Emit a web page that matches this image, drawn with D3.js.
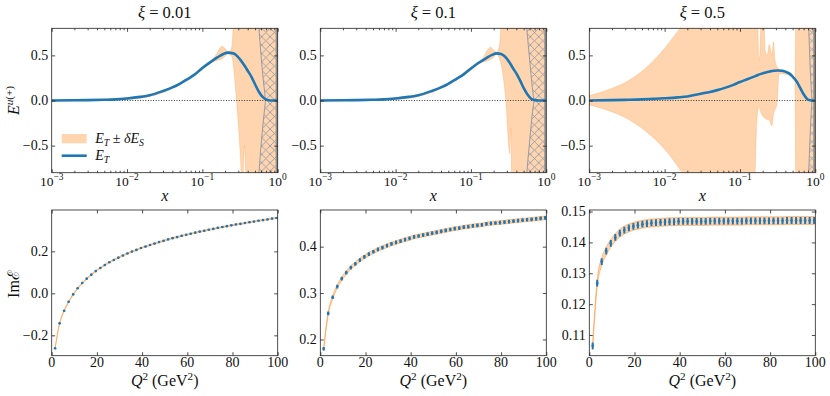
<!DOCTYPE html>
<html>
<head>
<meta charset="utf-8">
<script src="https://cdn.jsdelivr.net/npm/d3@7"></script>
<style>
body { margin: 0; background: #fff; }
svg text, svg tspan { font-family: "Liberation Serif", "Times New Roman", Times, "DejaVu Serif", serif; fill: #111; }
</style>
</head>
<body>
<svg id="fig" width="830" height="396" font-family="Liberation Serif, Times New Roman, DejaVu Serif, serif"></svg>
<script>
// ---------- data ----------
var xiLabels = ["0.01", "0.1", "0.5"];

// x grid for the E_T curves
var xGrid = [0.001, 0.002, 0.003, 0.005, 0.007, 0.01, 0.015, 0.02, 0.03, 0.04, 0.05, 0.063, 0.08, 0.1, 0.125, 0.16, 0.19, 0.22, 0.25, 0.28, 0.32, 0.36, 0.4, 0.45, 0.5, 0.56, 0.63, 0.7, 0.8, 0.9, 1.0];
var eT1 = [0.000, 0.002, 0.004, 0.008, 0.012, 0.022, 0.040, 0.058, 0.105, 0.145, 0.185, 0.235, 0.290, 0.360, 0.420, 0.480, 0.515, 0.530, 0.525, 0.505, 0.450, 0.390, 0.330, 0.260, 0.180, 0.100, 0.040, 0.012, 0.000, 0.000, 0.000];
var eT2 = [0.000, 0.002, 0.004, 0.008, 0.012, 0.022, 0.040, 0.058, 0.105, 0.145, 0.185, 0.235, 0.290, 0.355, 0.415, 0.470, 0.505, 0.522, 0.515, 0.490, 0.430, 0.360, 0.300, 0.220, 0.140, 0.070, 0.020, 0.004, 0.000, 0.000, 0.000];
var eT3 = [0.000, 0.004, 0.007, 0.012, 0.018, 0.025, 0.035, 0.045, 0.075, 0.095, 0.115, 0.140, 0.170, 0.205, 0.235, 0.270, 0.295, 0.310, 0.322, 0.330, 0.333, 0.330, 0.320, 0.300, 0.265, 0.215, 0.140, 0.070, 0.010, 0.000, 0.000];

// error bands E_T +- dE_S
var bandX1  = [0.001, 0.00316, 0.01, 0.0316, 0.063, 0.1, 0.141, 0.158, 0.182, 0.2, 0.219, 0.24, 0.251, 0.26, 0.282, 0.302, 0.316, 0.327, 0.339, 0.351, 0.363, 0.376, 0.389, 1.0];
var bandLo1 = [-0.006, -0.003, 0.012, 0.095, 0.225, 0.345, 0.430, 0.445, 0.460, 0.490, 0.515, 0.500, 0.460, 0.360, 0.020, -0.300, -0.550, -0.800, -1.200, -0.750, -0.500, -0.800, -1.200, -1.500];
var bandHi1 = [0.006, 0.011, 0.032, 0.115, 0.245, 0.375, 0.465, 0.530, 0.600, 0.575, 0.545, 0.560, 0.680, 0.950, 1.500, 1.500, 1.500, 1.500, 1.500, 1.500, 1.500, 1.500, 1.500, 1.500];

var bandX2  = [0.001, 0.00316, 0.01, 0.0316, 0.063, 0.1, 0.141, 0.166, 0.182, 0.2, 0.219, 0.24, 0.251, 0.266, 0.295, 0.31, 0.326, 0.339, 0.351, 1.0];
var bandLo2 = [-0.006, -0.003, 0.012, 0.095, 0.225, 0.340, 0.425, 0.440, 0.455, 0.480, 0.510, 0.460, 0.400, 0.280, -0.090, -0.390, -0.590, -0.300, -1.200, -1.500];
var bandHi2 = [0.006, 0.011, 0.032, 0.115, 0.245, 0.370, 0.460, 0.560, 0.590, 0.560, 0.535, 0.620, 0.900, 1.500, 1.500, 1.500, 1.500, 1.500, 1.500, 1.500];

var bandX3  = [0.001, 0.00178, 0.00316, 0.00562, 0.01, 0.0141, 0.0186, 0.0316, 0.148, 0.158, 0.166, 0.172, 0.178, 0.184, 0.193, 0.204, 0.216, 0.229, 0.245, 0.257, 0.266, 0.279, 0.292, 0.309, 0.331, 0.501, 0.537, 0.556, 1.0];
var bandLo3 = [-0.050, -0.110, -0.200, -0.340, -0.540, -0.700, -0.860, -1.500, -1.500, -0.900, -0.300, -0.120, -0.070, -0.100, -0.150, -0.180, -0.200, -0.210, -0.220, -0.260, -0.280, -0.150, -0.100, -0.050, 0.300, 0.260, 0.220, -1.200, -1.500];
var bandHi3 = [0.055, 0.120, 0.210, 0.360, 0.580, 0.740, 0.880, 1.500, 1.500, 1.500, 1.200, 0.900, 0.450, 0.520, 1.200, 1.200, 0.550, 0.500, 0.620, 0.550, 0.500, 0.650, 0.450, 0.380, 0.345, 0.270, 0.240, 1.200, 1.500];

// hatched region |E| > g(x) near x -> 1
var hatchX1 = [0.55, 0.564, 0.585, 0.607, 0.638, 0.671, 0.692, 1.0];
var hatchG1 = [0.95, 0.80, 0.62, 0.46, 0.26, 0.09, 0.00, 0.00];
var hatchX2 = [0.537, 0.552, 0.575, 0.60, 0.631, 0.664, 0.698, 1.0];
var hatchG2 = [0.95, 0.80, 0.62, 0.46, 0.26, 0.09, 0.00, 0.00];
var hatchX3 = [0.803, 0.817, 0.834, 0.851, 0.872, 0.891, 0.906, 1.0];
var hatchG3 = [0.95, 0.80, 0.60, 0.40, 0.22, 0.08, 0.00, 0.00];

// Im E versus Q^2
var q2 = [1.5, 3.5, 5.5, 7.5, 9.5, 11.5, 13.5, 15.5, 17.5, 19.5, 21.5, 23.5, 25.5, 27.5, 29.5, 31.5, 33.5, 35.5, 37.5, 39.5,
          41.5, 43.5, 45.5, 47.5, 49.5, 51.5, 53.5, 55.5, 57.5, 59.5, 61.5, 63.5, 65.5, 67.5, 69.5, 71.5, 73.5, 75.5, 77.5, 79.5,
          81.5, 83.5, 85.5, 87.5, 89.5, 91.5, 93.5, 95.5, 97.5, 99.5];
var imE1 = [-0.262, -0.143, -0.083, -0.040, -0.005, 0.024, 0.049, 0.070, 0.089, 0.106, 0.121, 0.135, 0.148, 0.159, 0.170, 0.180, 0.190, 0.199, 0.207, 0.216,
            0.223, 0.230, 0.237, 0.244, 0.250, 0.257, 0.263, 0.268, 0.274, 0.279, 0.284, 0.289, 0.294, 0.298, 0.303, 0.307, 0.312, 0.316, 0.320, 0.324,
            0.328, 0.331, 0.335, 0.339, 0.342, 0.346, 0.349, 0.352, 0.356, 0.359];
var imE2 = [0.180, 0.256, 0.291, 0.314, 0.331, 0.344, 0.355, 0.363, 0.371, 0.378, 0.384, 0.389, 0.394, 0.398, 0.402, 0.406, 0.409, 0.412, 0.415, 0.418,
            0.421, 0.423, 0.425, 0.427, 0.429, 0.431, 0.433, 0.435, 0.437, 0.439, 0.440, 0.442, 0.443, 0.445, 0.446, 0.447, 0.449, 0.450, 0.451, 0.452,
            0.453, 0.454, 0.455, 0.456, 0.457, 0.458, 0.459, 0.460, 0.461, 0.462];
var imE3 = [0.1065, 0.1268, 0.1338, 0.1372, 0.1397, 0.1416, 0.1430, 0.1440, 0.1447, 0.1452, 0.1456, 0.1459, 0.1461, 0.1463, 0.1464, 0.1465, 0.1466, 0.1467, 0.1467, 0.1468,
            0.1468, 0.1468, 0.1468, 0.1468, 0.1468, 0.1468, 0.1469, 0.1469, 0.1469, 0.1469, 0.1469, 0.1469, 0.1469, 0.1469, 0.1470, 0.1470, 0.1470, 0.1470, 0.1470, 0.1470,
            0.1470, 0.1470, 0.1470, 0.1471, 0.1471, 0.1471, 0.1471, 0.1471, 0.1471, 0.1471];
var imErr  = [0.003, 0.004, 0.0011];   // blue error bars
var imBand = [0.003, 0.004, 0.0013];   // orange band half width

// ticks
var xTicksTop = [0.001, 0.01, 0.1, 1];
var xTickExp = ["\u22123", "\u22122", "\u22121", "0"];
var yTicksTop = [-0.5, 0, 0.5];
var xTicksBot = [0, 20, 40, 60, 80, 100];
var yTicksBot = [[-0.2, 0.0, 0.2], [0.2, 0.3, 0.4], [0.11, 0.12, 0.13, 0.14, 0.15]];
var yDomBot = [[-0.297, 0.397], [0.165, 0.479], [0.1033, 0.1505]];
var yFmtBot = [".1f", ".1f", ".2f"];

// ---------- layout ----------
var svg = d3.select("#fig");
var lefts = [51.7, 320.3, 589.3], pw = 226;
var topY = 28.3, topH = 144.4, botY = 210, botH = 145.7;
var blue = "#1f77b4", orange = "#ff7f0e";
var bandFill = "rgba(255,127,14,0.33)";
var serif = "'Liberation Serif', 'Times New Roman', 'DejaVu Serif', serif";
var tickFont = 14;

var defs = svg.append("defs");
var pat = defs.append("pattern").attr("id", "hatch").attr("patternUnits", "userSpaceOnUse")
  .attr("width", 8.4).attr("height", 8.4);
pat.append("path").attr("d", "M0,0L8.4,8.4M8.4,0L0,8.4")
  .attr("stroke", "#8a95a5").attr("stroke-width", 0.8).attr("fill", "none");

// text with italics / sub / superscripts
function rich(txt, parts, size) {
  var shift = 0;
  txt.style("font-family", serif);
  parts.forEach(function(p) {
    var s = p.s || 0;
    var target = s === 1 ? -0.4 * size : (s === -1 ? 0.25 * size : 0);
    txt.append("tspan").text(p.t)
      .attr("dy", (target - shift).toFixed(2))
      .style("font-family", p.f || serif)
      .style("font-style", p.i ? "italic" : "normal")
      .style("font-size", (s ? size * 0.7 : size) + "px");
    shift = target;
  });
  return txt;
}

function plain(g, xx, yy, str, anchor) {
  return g.append("text").attr("x", xx).attr("y", yy).attr("text-anchor", anchor)
    .style("font-family", serif).style("font-size", tickFont + "px").text(str);
}

function styleAxis(sel) {
  sel.select(".domain").remove();
  sel.selectAll("line").attr("stroke", "#222").attr("stroke-width", 0.8);
  sel.selectAll("text").remove();
}

function ticksAround(g, x, y, w, h, xt, yt, xMinor) {
  g.append("g").attr("transform", "translate(0," + h + ")")
    .call(d3.axisBottom(x).tickValues(xt).tickSize(-3.5).tickSizeOuter(0)).call(styleAxis);
  g.append("g").call(d3.axisTop(x).tickValues(xt).tickSize(-3.5).tickSizeOuter(0)).call(styleAxis);
  g.append("g").call(d3.axisLeft(y).tickValues(yt).tickSize(-3.5).tickSizeOuter(0)).call(styleAxis);
  g.append("g").attr("transform", "translate(" + w + ",0)")
    .call(d3.axisRight(y).tickValues(yt).tickSize(-3.5).tickSizeOuter(0)).call(styleAxis);
  if (xMinor) {
    g.append("g").attr("transform", "translate(0," + h + ")")
      .call(d3.axisBottom(x).tickValues(xMinor).tickSize(-2).tickSizeOuter(0)).call(styleAxis);
    g.append("g").call(d3.axisTop(x).tickValues(xMinor).tickSize(-2).tickSizeOuter(0)).call(styleAxis);
  }
  g.append("rect").attr("width", w).attr("height", h)
    .attr("fill", "none").attr("stroke", "#222").attr("stroke-width", 0.8);
}

// ---------- top row: E^{u(+)}(x) ----------
function topPanel(i, eT, bx, blo, bhi, hx, hg) {
  var g = svg.append("g").attr("transform", "translate(" + lefts[i] + "," + topY + ")");
  var x = d3.scaleLog().domain([1e-3, 1]).range([0, pw]);
  var y = d3.scaleLinear().domain([-0.8, 0.8]).range([topH, 0]);

  defs.append("clipPath").attr("id", "clipT" + i)
    .append("rect").attr("width", pw).attr("height", topH);
  var plot = g.append("g").attr("clip-path", "url(#clipT" + i + ")");

  var band = d3.area().curve(d3.curveMonotoneX)
    .x(function(d) { return x(d[0]); })
    .y0(function(d) { return y(d[1]); })
    .y1(function(d) { return y(d[2]); });
  plot.append("path").attr("d", band(d3.zip(bx, blo, bhi)))
    .attr("fill", bandFill).attr("stroke", orange).attr("stroke-opacity", 0.25).attr("stroke-width", 0.8);

  // hatched region
  var hd = d3.zip(hx, hg);
  var up = d3.area().curve(d3.curveMonotoneX)
    .x(function(d) { return x(d[0]); })
    .y0(function(d) { return y(d[1]); })
    .y1(function() { return y(1.5); });
  var dn = d3.area().curve(d3.curveMonotoneX)
    .x(function(d) { return x(d[0]); })
    .y0(function(d) { return y(-d[1]); })
    .y1(function() { return y(-1.5); });
  plot.append("path").attr("d", up(hd)).attr("fill", "url(#hatch)");
  plot.append("path").attr("d", dn(hd)).attr("fill", "url(#hatch)");
  var edge = d3.line().curve(d3.curveMonotoneX).x(function(d) { return x(d[0]); });
  plot.append("path").attr("d", edge.y(function(d) { return y(d[1]); })(hd))
    .attr("fill", "none").attr("stroke", "#8a95a5").attr("stroke-width", 0.9);
  plot.append("path").attr("d", edge.y(function(d) { return y(-d[1]); })(hd))
    .attr("fill", "none").attr("stroke", "#8a95a5").attr("stroke-width", 0.9);
  plot.append("line").attr("x1", x(1) - 1).attr("x2", x(1) - 1).attr("y1", 0).attr("y2", topH)
    .attr("stroke", "#8f8f8f").attr("stroke-width", 2);

  // zero line
  plot.append("line").attr("x1", 0).attr("x2", pw).attr("y1", y(0)).attr("y2", y(0))
    .attr("stroke", "#222").attr("stroke-width", 0.9).attr("stroke-dasharray", "1,1.6");

  // E_T
  var line = d3.line().curve(d3.curveMonotoneX)
    .x(function(d) { return x(d[0]); })
    .y(function(d) { return y(d[1]); });
  plot.append("path").attr("d", line(d3.zip(xGrid, eT)))
    .attr("fill", "none").attr("stroke", blue).attr("stroke-width", 2.6);

  var minor = x.ticks().filter(function(v) { return xTicksTop.indexOf(v) < 0; });
  ticksAround(g, x, y, pw, topH, xTicksTop, yTicksTop, minor);

  xTicksTop.forEach(function(v, k) {
    rich(g.append("text").attr("x", x(v)).attr("y", topH + 13).attr("text-anchor", "middle"),
      [{t: "10"}, {t: xTickExp[k], s: 1}], 13.5);
  });
  var fy = d3.format(".1f");
  yTicksTop.forEach(function(v) { plain(g, -3.5, y(v) + 4.6, fy(v), "end"); });

  rich(g.append("text").attr("x", pw / 2).attr("y", -10).attr("text-anchor", "middle"),
    [{t: "\u03be", i: 1}, {t: " = " + xiLabels[i]}], 16.5);
  rich(g.append("text").attr("x", pw / 2).attr("y", topH + 28.5).attr("text-anchor", "middle"),
    [{t: "x", i: 1}], 16);
  return g;
}

// ---------- bottom row: Im E(Q^2) ----------
function botPanel(i, vals) {
  var g = svg.append("g").attr("transform", "translate(" + lefts[i] + "," + botY + ")");
  var x = d3.scaleLinear().domain([0, 100]).range([0, pw]);
  var y = d3.scaleLinear().domain(yDomBot[i]).range([botH, 0]);
  var pts = d3.zip(q2, vals);

  defs.append("clipPath").attr("id", "clipB" + i)
    .append("rect").attr("width", pw).attr("height", botH);
  var plot = g.append("g").attr("clip-path", "url(#clipB" + i + ")");

  var bw = imBand[i], ew = imErr[i];
  var area = d3.area().curve(d3.curveMonotoneX)
    .x(function(d) { return x(d[0]); })
    .y0(function(d) { return y(d[1] - bw); })
    .y1(function(d) { return y(d[1] + bw); });
  plot.append("path").attr("d", area(pts))
    .attr("fill", bandFill).attr("stroke", orange).attr("stroke-opacity", 0.45).attr("stroke-width", 0.9);

  plot.selectAll("line.err").data(pts).enter().append("line").attr("class", "err")
    .attr("x1", function(d) { return x(d[0]); })
    .attr("x2", function(d) { return x(d[0]); })
    .attr("y1", function(d) { return y(d[1] - ew); })
    .attr("y2", function(d) { return y(d[1] + ew); })
    .attr("stroke", blue).attr("stroke-width", 2);
  plot.selectAll("circle").data(pts).enter().append("circle")
    .attr("cx", function(d) { return x(d[0]); })
    .attr("cy", function(d) { return y(d[1]); })
    .attr("r", 1.3).attr("fill", blue);

  ticksAround(g, x, y, pw, botH, xTicksBot, yTicksBot[i], null);

  xTicksBot.forEach(function(v) { plain(g, x(v), botH + 11.5, v, "middle"); });
  var fy = d3.format(yFmtBot[i]);
  yTicksBot[i].forEach(function(v) { plain(g, -3.5, y(v) + 4.6, fy(v), "end"); });
  rich(g.append("text").attr("x", pw / 2).attr("y", botH + 30.5).attr("text-anchor", "middle"),
    [{t: "Q", i: 1}, {t: "2", s: 1}, {t: " (GeV"}, {t: "2", s: 1}, {t: ")"}], 16);
}

var g1 = topPanel(0, eT1, bandX1, bandLo1, bandHi1, hatchX1, hatchG1);
topPanel(1, eT2, bandX2, bandLo2, bandHi2, hatchX2, hatchG2);
topPanel(2, eT3, bandX3, bandLo3, bandHi3, hatchX3, hatchG3);
botPanel(0, imE1);
botPanel(1, imE2);
botPanel(2, imE3);

// legend in first panel
g1.append("rect").attr("x", 10).attr("y", 105.7).attr("width", 25).attr("height", 9.3).attr("fill", bandFill);
g1.append("line").attr("x1", 10).attr("x2", 35).attr("y1", 127.4).attr("y2", 127.4)
  .attr("stroke", blue).attr("stroke-width", 2.6);
rich(g1.append("text").attr("x", 43.5).attr("y", 114.5),
  [{t: "E", i: 1}, {t: "T", i: 1, s: -1}, {t: " \u00b1 "}, {t: "\u03b4E", i: 1}, {t: "S", i: 1, s: -1}], 14);
rich(g1.append("text").attr("x", 43.5).attr("y", 131.5),
  [{t: "E", i: 1}, {t: "T", i: 1, s: -1}], 14);

// y labels
rich(svg.append("text").attr("transform", "translate(19,100.5) rotate(-90)").attr("text-anchor", "middle"),
  [{t: "E", i: 1}, {t: "u", i: 1, s: 1}, {t: "(+)", s: 1}], 16);
rich(svg.append("text").attr("transform", "translate(19,284) rotate(-90)").attr("text-anchor", "middle"),
  [{t: "Im"}, {t: "\u2130", f: "'DejaVu Serif', serif"}], 16);
</script>
</body>
</html>
